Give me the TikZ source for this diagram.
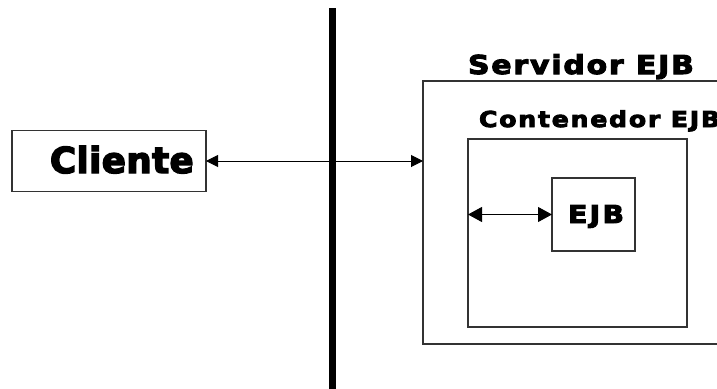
\documentclass[tikz,border=0pt]{standalone}
\usepackage{fontspec}
\usetikzlibrary{arrows.meta}
% Heavy, wide sans faces, each with its own tracking
\newfontfamily\clientefont{DejaVu Sans}[LetterSpace=1,FakeBold=4]
\newfontfamily\servidorfont{DejaVu Sans}[LetterSpace=7,FakeStretch=1.15,FakeBold=4]
\newfontfamily\contfont{DejaVu Sans}[LetterSpace=8,FakeStretch=1.15,FakeBold=4]
\newfontfamily\ejbfont{DejaVu Sans}[LetterSpace=9,FakeStretch=1.15,FakeBold=4]
\begin{document}
\begin{tikzpicture}[x=1pt,y=-1pt,
  box/.style={draw=black!80, line width=1.1pt, fill=none, inner sep=0pt, outer sep=0pt},
  title/.style={inner sep=0pt, outer sep=0pt, anchor=base west},
  link/.style={draw=black, line width=1pt, {Triangle[length=12pt,width=12pt]}-{Triangle[length=12pt,width=12pt]}},
  innerlink/.style={draw=black, line width=1pt, {Triangle[length=14pt,width=15pt]}-{Triangle[length=14pt,width=15pt]}},
  divider/.style={draw=black, line width=7pt}]
\useasboundingbox (0,0) rectangle (717,388);
\fill[white] (0,0) rectangle (717,388);

% boxes
\node[box, minimum width=194pt, minimum height=61pt] (cliente) at (109,161) {};
\node[box, minimum width=317pt, minimum height=263pt] (servidor) at (581.5,212.5) {};
\node[box, minimum width=219pt, minimum height=188pt] (contenedor) at (577.5,233) {};
\node[box, minimum width=83pt, minimum height=73pt] (ejb) at (593.5,214.5) {};

% labels
\node[title] (clientelbl) at (50,173) {\clientefont\bfseries\fontsize{35.7}{40}\selectfont Cliente};
\node[title] (servidorlbl) at (468,74) {\servidorfont\bfseries\fontsize{26}{30}\selectfont Servidor EJB};
\node[title] (contlbl) at (479,127) {\contfont\bfseries\fontsize{21.9}{26}\selectfont Contenedor EJB};
\node[title] (ejblbl) at (568,223) {\ejbfont\bfseries\fontsize{24.7}{28}\selectfont EJB};

% dividing line
\coordinate (divtop) at (332,8);
\coordinate (divbot) at (332,392);
\draw[divider] (divtop) -- (divbot);

% connectors
\draw[link] (cliente.east) -- (cliente.east -| servidor.west);
\draw[innerlink] (ejb.west -| contenedor.west) -- (ejb.west);
\end{tikzpicture}
\end{document}
